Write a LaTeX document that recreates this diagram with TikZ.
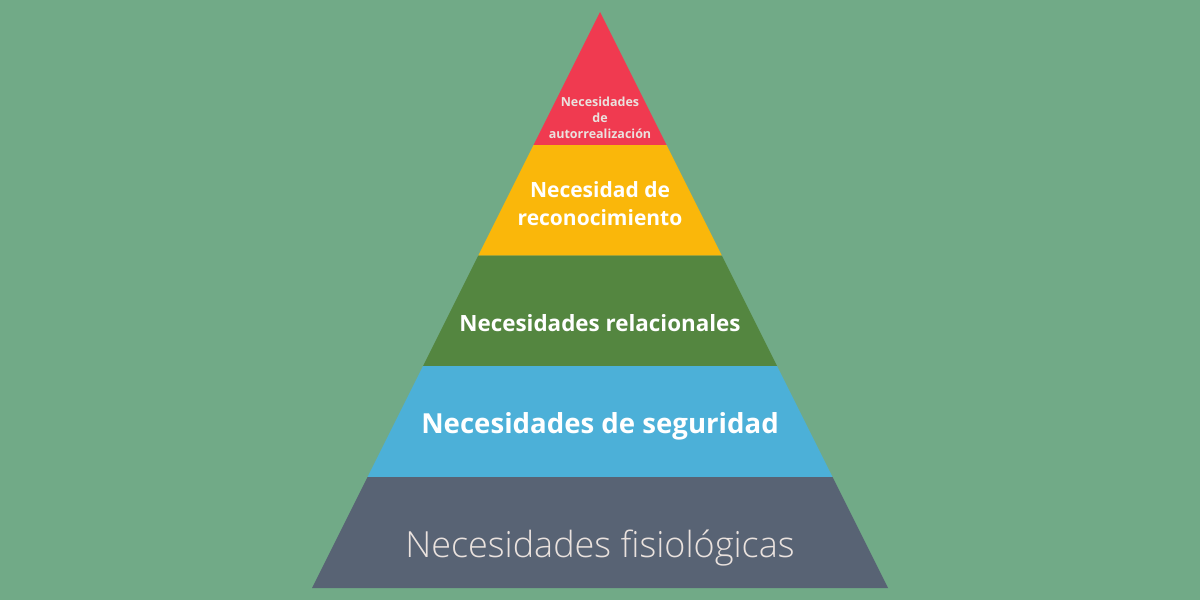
\documentclass[tikz,border=0pt]{standalone}
\usepackage{fontspec}
\setmainfont{Open Sans}
\newfontfamily\lightfont{Open Sans Light}
\usetikzlibrary{positioning}
\definecolor{fondo}{HTML}{71AA87}
\definecolor{rojo}{HTML}{F03A50}
\definecolor{amarillo}{HTML}{FAB70A}
\definecolor{verde}{HTML}{548640}
\definecolor{azul}{HTML}{4CB0D8}
\definecolor{pizarra}{HTML}{586374}
\definecolor{claro}{HTML}{EAE2DE}

\begin{document}
\begin{tikzpicture}
	[   x=1pt,y=-1pt,
	    rotulo/.style={text=white,font=\bfseries,align=center,inner sep=0pt},
	]
	\fill[fondo] (0,0) rectangle (1200,600);
	\useasboundingbox (0,0) rectangle (1200,600);
	
	\coordinate (cima) at (600,12);
	\foreach \y/\n in {145/1,255.5/2,366/3,477/4,588/5}
	{
		\coordinate (izq-\n) at ({600-(\y-12)/2},\y);
		\coordinate (der-\n) at ({600+(\y-12)/2},\y);
	}
	\fill[rojo] (cima) -- (der-1) -- (izq-1) -- cycle;
	\foreach \a/\b/\c in {1/2/amarillo,2/3/verde,3/4/azul,4/5/pizarra}
	{
		\fill[\c] (izq-\a) -- (der-\a) -- (der-\b) -- (izq-\b) -- cycle;
	}
	
	\node[rotulo,text=claro,font=\bfseries\fontsize{12.5}{16}\selectfont] (autorrealizacion) at (600,118) {Necesidades\\de\\autorrealización};
	\node[rotulo,font=\bfseries\fontsize{21}{28}\selectfont] (reconocimiento) at (600,204) {Necesidad de\\reconocimiento};
	\node[rotulo,font=\bfseries\fontsize{22.4}{28}\selectfont] (relacionales) at (600,323) {Necesidades relacionales};
	\node[rotulo,font=\bfseries\fontsize{27.6}{32}\selectfont] (seguridad) at (600,426) {Necesidades de seguridad};
	\node[rotulo,text=claro,font=\lightfont\fontsize{36}{40}\selectfont] (fisiologicas) at (600,548) {Necesidades fisiológicas};
\end{tikzpicture}
\end{document}
